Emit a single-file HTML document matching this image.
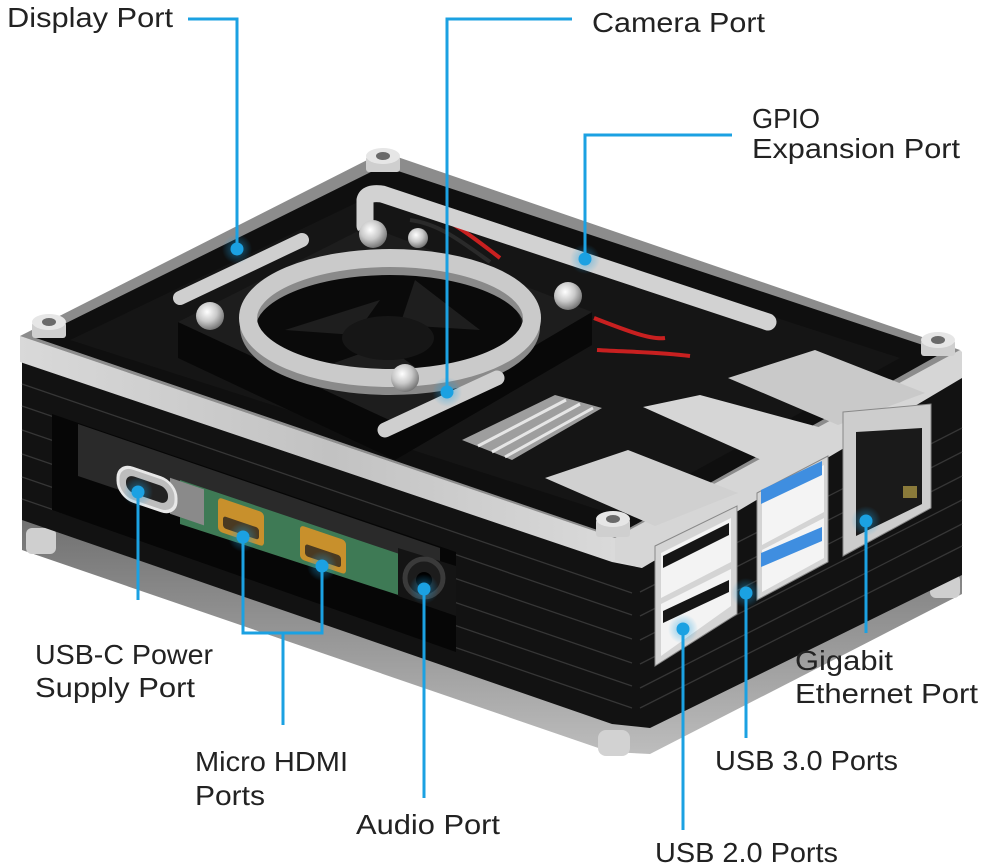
<!DOCTYPE html>
<html><head><meta charset="utf-8"><style>
html,body{margin:0;padding:0;background:#fff;}
svg{display:block;}
text{font-family:"Liberation Sans",sans-serif;font-size:28px;fill:#222;}
</style></head><body>
<svg width="988" height="868" viewBox="0 0 988 868" xmlns="http://www.w3.org/2000/svg">
<defs>
<radialGradient id="glow"><stop offset="0" stop-color="#1ba1e2" stop-opacity="0.55"/><stop offset="1" stop-color="#1ba1e2" stop-opacity="0"/></radialGradient>
<radialGradient id="screw" cx="0.4" cy="0.35" r="0.7"><stop offset="0" stop-color="#ffffff"/><stop offset="0.5" stop-color="#c9c9c9"/><stop offset="1" stop-color="#6a6a6a"/></radialGradient>
<linearGradient id="bandL" x1="0" y1="0" x2="1" y2="0"><stop offset="0" stop-color="#d9d9d9"/><stop offset="0.5" stop-color="#c2c2c2"/><stop offset="1" stop-color="#dcdcdc"/></linearGradient>
<linearGradient id="baseG" x1="0" y1="0" x2="0" y2="1"><stop offset="0" stop-color="#6e6e6e"/><stop offset="1" stop-color="#bdbdbd"/></linearGradient>
</defs>
<rect width="988" height="868" fill="#fff"/>

<!-- base clear layer -->
<polygon points="22,512 612,716 650,720 962,566 962,594 650,754 610,752 22,550" fill="url(#baseG)"/>
<rect x="26" y="528" width="30" height="26" rx="6" fill="#cfcfcf"/>
<rect x="598" y="730" width="32" height="26" rx="8" fill="#d2d2d2"/>
<rect x="930" y="574" width="30" height="24" rx="6" fill="#cfcfcf"/>

<!-- body -->
<polygon points="22,350 630,556 962,370 962,575 650,728 612,724 22,520" fill="#121212"/>
<g stroke="#363636" stroke-width="1.3">
<line x1="22" y1="384" x2="632" y2="593"/>
<line x1="22" y1="406" x2="632" y2="615"/>
<line x1="22" y1="430" x2="632" y2="639"/>
<line x1="22" y1="454" x2="632" y2="663"/>
<line x1="22" y1="477" x2="632" y2="686"/>
<line x1="22" y1="499" x2="632" y2="708"/>
<line x1="640" y1="592" x2="962" y2="428"/>
<line x1="640" y1="616" x2="962" y2="452"/>
<line x1="640" y1="640" x2="962" y2="476"/>
<line x1="640" y1="664" x2="962" y2="500"/>
<line x1="640" y1="688" x2="962" y2="524"/>
<line x1="640" y1="708" x2="962" y2="546"/>
</g>

<!-- left window -->
<polygon points="52,414 456,552 456,652 52,510" fill="#060606"/>
<polygon points="78,424 440,548 440,598 78,476" fill="#2a2a2a"/>
<polygon points="180,480 432,565 432,606 180,524" fill="#3e7a55"/>
<rect x="170" y="420" width="34" height="36" fill="#8a8a8a" transform="matrix(1,0.34,0,1,0,0)"/>
<rect x="118" y="423" width="58" height="33" rx="15" fill="#bdbdbd" stroke="#e8e8e8" stroke-width="3" transform="matrix(1,0.34,0,1,0,0)"/>
<rect x="126" y="431" width="42" height="17" rx="8" fill="#222" transform="matrix(1,0.34,0,1,0,0)"/>
<rect x="218" y="423" width="46" height="34" rx="4" fill="#c8902c" transform="matrix(1,0.34,0,1,0,0)"/>
<rect x="223" y="440" width="36" height="12" rx="3" fill="#4a3a22" transform="matrix(1,0.34,0,1,0,0)"/>
<rect x="300" y="423" width="46" height="34" rx="4" fill="#c8902c" transform="matrix(1,0.34,0,1,0,0)"/>
<rect x="305" y="440" width="36" height="12" rx="3" fill="#4a3a22" transform="matrix(1,0.34,0,1,0,0)"/>
<polygon points="398,548 456,566 456,616 398,596" fill="#141414"/>
<circle cx="424" cy="578" r="19" fill="#1c1c1c" stroke="#3a3a3a" stroke-width="5"/>
<circle cx="424" cy="580" r="8" fill="#000"/>

<!-- lid side clear bands -->
<polygon points="20,336 615,538 642,548 642,568 612,562 20,362" fill="url(#bandL)"/>
<polygon points="615,538 960,350 962,352 962,378 642,568 615,560" fill="#d6d6d6"/>

<!-- lid top -->
<polygon points="20,336 383,152 960,350 615,538" fill="#8c8c8c"/>
<polygon points="36,338 383,166 944,352 615,536" fill="#0f0f0f"/>
<polygon points="70,340 383,190 900,358 615,515" fill="#151515"/>

<!-- right-side components in lid -->
<polygon points="728,378 815,350 925,393 838,425" fill="#c9c9c9"/>
<polygon points="643,407 700,395 837,432 775,466" fill="#d6d6d6"/>
<polygon points="545,478 628,450 738,493 655,526" fill="#d0d0d0"/>
<polygon points="462,440 555,395 602,408 512,460" fill="#9e9e9e"/>
<g stroke="#e6e6e6" stroke-width="3"><line x1="478" y1="446" x2="566" y2="400"/><line x1="492" y1="452" x2="580" y2="404"/><line x1="505" y1="457" x2="593" y2="408"/></g>

<!-- red wires -->
<path d="M418,212 C445,214 470,235 500,258" stroke="#c82020" stroke-width="4" fill="none"/>
<path d="M410,220 C440,224 462,242 490,262" stroke="#2a2a2a" stroke-width="4" fill="none"/>
<path d="M594,318 C625,330 650,340 665,338" stroke="#c82020" stroke-width="4" fill="none"/>
<path d="M597,350 C630,352 660,352 690,356" stroke="#c82020" stroke-width="4" fill="none"/>

<!-- GPIO bar -->
<path d="M365,226 L365,200 Q367,192 382,194 L768,322" stroke="#d2d2d2" stroke-width="17" fill="none" stroke-linecap="round" stroke-linejoin="round"/>

<!-- display bar -->
<line x1="180" y1="298" x2="302" y2="240" stroke="#cfcfcf" stroke-width="14" stroke-linecap="round"/>

<!-- fan block -->
<polygon points="178,322 400,425 592,312 592,345 395,460 178,358" fill="#080808"/>
<polygon points="178,322 368,226 592,312 400,425" fill="#1d1d1d"/>
<!-- fan -->
<ellipse cx="388" cy="328" rx="134" ry="62" fill="#0a0a0a"/>
<path d="M285,330 L380,300 L355,335 Z" fill="#1e1e1e"/>
<path d="M415,280 L480,330 L400,325 Z" fill="#1e1e1e"/>
<path d="M320,368 L385,345 L430,378 Z" fill="#1e1e1e"/>
<ellipse cx="388" cy="338" rx="46" ry="22" fill="#161616"/>
<ellipse cx="390" cy="327" rx="142" ry="60" fill="none" stroke="#8a8a8a" stroke-width="16"/>
<ellipse cx="390" cy="318" rx="142" ry="60" fill="none" stroke="#cacaca" stroke-width="18"/>

<!-- camera bar -->
<line x1="385" y1="430" x2="497" y2="378" stroke="#cfcfcf" stroke-width="15" stroke-linecap="round"/>

<!-- screws -->
<circle cx="210" cy="316" r="14" fill="url(#screw)"/>
<circle cx="373" cy="234" r="14" fill="url(#screw)"/>
<circle cx="418" cy="238" r="10" fill="url(#screw)"/>
<circle cx="568" cy="296" r="14" fill="url(#screw)"/>
<circle cx="405" cy="378" r="14" fill="url(#screw)"/>

<!-- top standoffs -->
<g fill="#cfcfcf">
<rect x="32" y="322" width="34" height="16" rx="3"/>
<rect x="366" y="156" width="34" height="16" rx="3"/>
<rect x="921" y="340" width="34" height="16" rx="3"/>
<rect x="596" y="519" width="34" height="18" rx="3"/>
</g>
<g fill="#e6e6e6"><ellipse cx="49" cy="322" rx="17" ry="8"/><ellipse cx="383" cy="156" rx="17" ry="8"/><ellipse cx="938" cy="340" rx="17" ry="8"/><ellipse cx="613" cy="519" rx="17" ry="8"/></g>
<g fill="#6a6a6a"><ellipse cx="49" cy="322" rx="7" ry="4"/><ellipse cx="383" cy="156" rx="7" ry="4"/><ellipse cx="938" cy="340" rx="7" ry="4"/><ellipse cx="613" cy="519" rx="7" ry="4"/></g>

<!-- right face ports -->
<polygon points="655,546 737,506 737,614 655,666" fill="#d4d4d4" stroke="#888" stroke-width="1"/>
<polygon points="661,553 731,518 731,562 661,598" fill="#f3f3f3"/>
<polygon points="663,556 729,523 729,535 663,568" fill="#151515"/>
<polygon points="661,604 731,569 731,606 661,656" fill="#f3f3f3"/>
<polygon points="663,611 729,580 729,592 663,623" fill="#151515"/>

<polygon points="757,493 828,456 828,562 757,600" fill="#d4d4d4" stroke="#888" stroke-width="1"/>
<polygon points="762,497 824,465 824,512 762,545" fill="#f4f4f4"/>
<polygon points="761,490 822,461 822,475 761,504" fill="#3f8ee0"/>
<polygon points="762,550 824,518 824,558 762,592" fill="#f4f4f4"/>
<polygon points="761,553 822,527 822,541 761,567" fill="#3f8ee0"/>

<polygon points="843,412 931,404 931,508 843,556" fill="#cdcdcd" stroke="#888" stroke-width="1"/>
<polygon points="856,432 922,428 922,504 856,536" fill="#1a1a1a"/>
<rect x="903" y="486" width="14" height="12" fill="#8a7a3a"/>

<!-- connectors -->
<g stroke="#1ba1e2" stroke-width="3" fill="none">
<path d="M188,19 H237 V248"/>
<path d="M572,19 H447 V392"/>
<path d="M732,135 H585 V259"/>
<path d="M138,492 V600"/>
<path d="M243,537 V633 H322 V566"/>
<path d="M283,633 V725"/>
<path d="M424,589 V798"/>
<path d="M683,629 V830"/>
<path d="M746,593 V738"/>
<path d="M866,521 V633"/>
</g>
<g fill="url(#glow)">
<circle cx="237" cy="249" r="15"/><circle cx="447" cy="392" r="15"/><circle cx="585" cy="259" r="15"/>
<circle cx="138" cy="492" r="15"/><circle cx="243" cy="537" r="15"/><circle cx="322" cy="566" r="15"/>
<circle cx="424" cy="589" r="15"/><circle cx="683" cy="629" r="15"/><circle cx="746" cy="593" r="15"/><circle cx="866" cy="521" r="15"/>
</g>
<g fill="#1ba1e2">
<circle cx="237" cy="249" r="6.5"/><circle cx="447" cy="392" r="6.5"/><circle cx="585" cy="259" r="6.5"/>
<circle cx="138" cy="492" r="6.5"/><circle cx="243" cy="537" r="6.5"/><circle cx="322" cy="566" r="6.5"/>
<circle cx="424" cy="589" r="6.5"/><circle cx="683" cy="629" r="6.5"/><circle cx="746" cy="593" r="6.5"/><circle cx="866" cy="521" r="6.5"/>
</g>

<!-- labels -->
<text x="7" y="27" textLength="166" lengthAdjust="spacingAndGlyphs">Display Port</text>
<text x="592" y="32" textLength="173" lengthAdjust="spacingAndGlyphs">Camera Port</text>
<text x="752" y="128" textLength="68" lengthAdjust="spacingAndGlyphs">GPIO</text>
<text x="752" y="158" textLength="208" lengthAdjust="spacingAndGlyphs">Expansion Port</text>
<text x="35" y="664" textLength="178" lengthAdjust="spacingAndGlyphs">USB-C Power</text>
<text x="35" y="697" textLength="160" lengthAdjust="spacingAndGlyphs">Supply Port</text>
<text x="195" y="771" textLength="153" lengthAdjust="spacingAndGlyphs">Micro HDMI</text>
<text x="195" y="805" textLength="70" lengthAdjust="spacingAndGlyphs">Ports</text>
<text x="356" y="834" textLength="144" lengthAdjust="spacingAndGlyphs">Audio Port</text>
<text x="795" y="670" textLength="98" lengthAdjust="spacingAndGlyphs">Gigabit</text>
<text x="795" y="703" textLength="183" lengthAdjust="spacingAndGlyphs">Ethernet Port</text>
<text x="715" y="770" textLength="183" lengthAdjust="spacingAndGlyphs">USB 3.0 Ports</text>
<text x="655" y="862" textLength="183" lengthAdjust="spacingAndGlyphs">USB 2.0 Ports</text>
</svg>
</body></html>
